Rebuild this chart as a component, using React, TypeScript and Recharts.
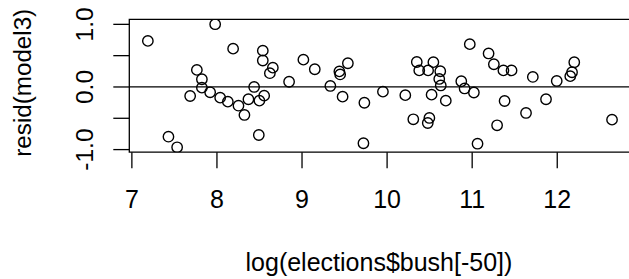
import { ScatterChart, Scatter, XAxis, YAxis, ReferenceLine, ReferenceArea, Label } from 'recharts';

// log(bush votes) per county, Palm Beach dropped
const logBush = [
  7.188, 7.43, 7.532, 7.685, 7.764, 7.823, 7.823, 7.92, 7.979, 8.038,
  8.128, 8.19, 8.253, 8.323, 8.37, 8.437, 8.492, 8.499, 8.555, 8.539,
  8.539, 8.657, 8.622, 8.848, 9.016, 9.15, 9.333, 9.439, 9.448, 9.539,
  9.477, 9.733, 9.722, 9.951, 10.214, 10.308, 10.349, 10.378, 10.482, 10.544,
  10.625, 10.613, 10.631, 10.523, 10.69, 10.497, 10.478, 10.972, 10.872, 10.911,
  11.02, 11.063, 11.193, 11.255, 11.367, 11.463, 11.293, 11.381, 11.633, 11.713,
  11.868, 11.994, 12.153, 12.174, 12.2, 12.644,
];

const residuals = [
  0.735, -0.794, -0.963, -0.144, 0.272, 0.123, -0.011, -0.085, 1.002, -0.171,
  -0.235, 0.612, -0.299, -0.447, -0.196, 0.0, -0.767, -0.219, -0.139, 0.58,
  0.423, 0.308, 0.22, 0.083, 0.436, 0.283, 0.016, 0.248, 0.2, 0.379,
  -0.155, -0.252, -0.899, -0.075, -0.131, -0.516, 0.399, 0.264, 0.264, 0.396,
  0.251, 0.128, 0.024, -0.123, -0.219, -0.495, -0.575, 0.684, 0.091, -0.024,
  -0.088, -0.906, 0.535, 0.363, 0.264, 0.264, -0.612, -0.224, -0.415, 0.16,
  -0.196, 0.096, 0.173, 0.235, 0.395, -0.522,
];

const xTicks = [7, 8, 9, 10, 11, 12];
const yTicks = [-1, -0.5, 0, 0.5, 1];
const yTickLabels = ['-1.0', '', '0.0', '', '1.0'];

const FONT = '"Liberation Sans", Arial, Helvetica, sans-serif';

// R pads the data range by 4% on each side
const rRange = (v: number[]): [number, number] => {
  const lo = Math.min(...v);
  const hi = Math.max(...v);
  const d = (hi - lo) * 0.04;
  return [lo - d, hi + d];
};

const data = logBush.map((x, i) => ({ x, y: residuals[i] }));
const xDom = rRange(logBush);
const yDom = rRange(residuals);

const XTick = (props: any) => (
  <text x={props.x} y={props.y} textAnchor="middle" fontSize={25} fontFamily={FONT} fill="#000">
    {props.payload.value}
  </text>
);

const YTick = (props: any) => {
  const label = yTickLabels[yTicks.indexOf(props.payload.value)];
  if (!label) return <g />;
  return (
    <text
      x={props.x}
      y={props.y}
      transform={`rotate(-90, ${props.x}, ${props.y})`}
      textAnchor="middle"
      fontSize={24.5}
      fontFamily={FONT}
      fill="#000"
    >
      {label}
    </text>
  );
};

const XTitle = (props: any) => {
  const vb = props.viewBox;
  return (
    <text x={vb.x + vb.width / 2 - 1} y={vb.y + 119} textAnchor="middle" fontSize={25} fontFamily={FONT} fill="#000">
      log(elections$bush[-50])
    </text>
  );
};

const YTitle = (props: any) => {
  const vb = props.viewBox;
  const cx = 31;
  const cy = vb.y + vb.height / 2 - 3;
  return (
    <text x={cx} y={cy} transform={`rotate(-90, ${cx}, ${cy})`} textAnchor="middle" fontSize={24.2} fontFamily={FONT} fill="#000">
      resid(model3)
    </text>
  );
};

const Ring = (props: any) => (
  <circle cx={props.cx} cy={props.cy} r={5.2} fill="none" stroke="#000" strokeWidth={1.4} />
);

export default function App() {
  return (
    <div style={{ position: 'absolute', left: 0, top: 0, width: 629, height: 279, overflow: 'hidden', background: '#fff' }}>
      <ScatterChart width={632} height={279} margin={{ top: 19.3, right: 1.4, bottom: 0, left: 0 }}>
        <XAxis
          dataKey="x"
          type="number"
          domain={xDom}
          ticks={xTicks}
          allowDataOverflow
          height={126.8}
          axisLine={false}
          tickLine={{ stroke: '#000', strokeWidth: 1.3 }}
          tickSize={16}
          tickMargin={40}
          tick={XTick}
          interval={0}
        >
          <Label content={XTitle} />
        </XAxis>
        <YAxis
          dataKey="y"
          type="number"
          domain={yDom}
          ticks={yTicks}
          allowDataOverflow
          width={129.3}
          axisLine={false}
          tickLine={{ stroke: '#000', strokeWidth: 1.3 }}
          tickSize={16}
          tickMargin={20}
          tick={YTick}
          interval={0}
        >
          <Label content={YTitle} />
        </YAxis>
        <ReferenceArea x1={xDom[0]} x2={xDom[1]} y1={yDom[0]} y2={yDom[1]} fill="none" stroke="#000" strokeWidth={1.3} fillOpacity={0} />
        <ReferenceLine y={0} stroke="#000" strokeWidth={1.3} />
        <Scatter data={data} shape={Ring} isAnimationActive={false} />
      </ScatterChart>
    </div>
  );
}
